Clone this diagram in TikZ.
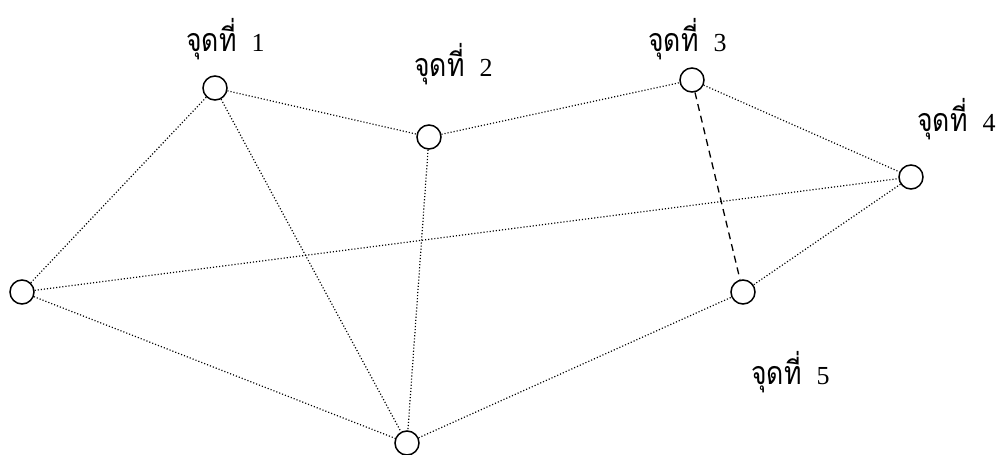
\documentclass[tikz,border=0pt]{standalone}
\usepackage{fontspec}
\setmainfont{Liberation Serif}
\newfontfamily\thaifont[Script=Thai]{Loma}
\newcommand{\thaiword}{\scalebox{0.95}[1.15]{\fontsize{28}{28}\selectfont\thaifont จุดที่}}
\begin{document}
\begin{tikzpicture}[x=1pt,y=-1pt,
  pt/.style={circle,draw,line width=1.5pt,minimum size=24pt,inner sep=0pt},
  dotl/.style={line width=1.2pt,dash pattern=on 1.1pt off 2pt},
  dashl/.style={line width=1.3pt,dash pattern=on 7pt off 5pt},
  lbl/.style={anchor=base west,inner sep=0pt,font=\fontsize{26}{26}\selectfont}]
\useasboundingbox (0,0) rectangle (1005,455);
\node[pt] (A) at (22,292) {};
\node[pt] (p1) at (215,88) {};
\node[pt] (p2) at (429,137) {};
\node[pt] (p3) at (692,80) {};
\node[pt] (p4) at (911,177) {};
\node[pt] (p5) at (743,292) {};
\node[pt] (B) at (407,443) {};
\node[lbl] (l1) at (186,51) {\thaiword\hspace{15pt}1};
\node[lbl] (l2) at (414,76) {\thaiword\hspace{15pt}2};
\node[lbl] (l3) at (648,51) {\thaiword\hspace{15pt}3};
\node[lbl] (l4) at (917,131) {\thaiword\hspace{15pt}4};
\node[lbl] (l5) at (751,384) {\thaiword\hspace{15pt}5};
\draw[dotl] (A) -- (p1);
\draw[dotl] (p1) -- (p2);
\draw[dotl] (p2) -- (p3);
\draw[dotl] (p3) -- (p4);
\draw[dotl] (p4) -- (p5);
\draw[dotl] (A) -- (p4);
\draw[dotl] (A) -- (B);
\draw[dotl] (p1) -- (B);
\draw[dotl] (p2) -- (B);
\draw[dotl] (B) -- (p5);
\draw[dashl] (p3) -- (p5);
\end{tikzpicture}
\end{document}
